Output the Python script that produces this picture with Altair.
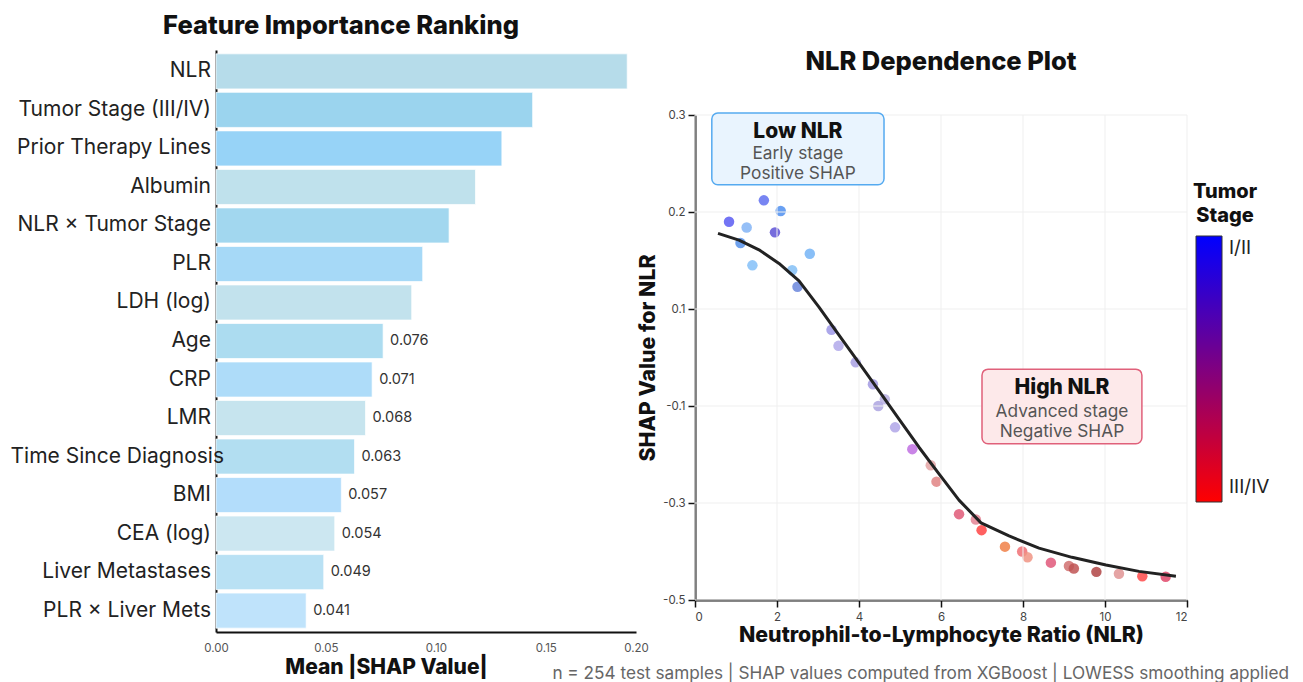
import altair as alt
import pandas as pd

# ---------------- data ----------------
features = ["NLR", "Tumor Stage (III/IV)", "Prior Therapy Lines", "Albumin",
            "NLR × Tumor Stage", "PLR", "LDH (log)", "Age", "CRP", "LMR",
            "Time Since Diagnosis", "BMI", "CEA (log)", "Liver Metastases",
            "PLR × Liver Mets"]
importance = [0.187, 0.144, 0.130, 0.118, 0.106, 0.094, 0.089, 0.076, 0.071,
              0.068, 0.063, 0.057, 0.054, 0.049, 0.041]
bar_colors = ["#b6dcea", "#9bd4ee", "#97d3f7", "#bfe1ec", "#a2d7ef", "#a6d9f7",
              "#c2e2ed", "#acdcf0", "#aedcf9", "#c6e4ee", "#b2def1", "#b3ddfb",
              "#cce7f1", "#b9e1f4", "#bfe3fb"]
imp_ticks = [0, 0.05, 0.10, 0.15, 0.191]

nlr = [0.83, 1.68, 2.09, 1.26, 1.95, 1.11, 2.80, 1.40, 2.37, 2.50,
       3.33, 3.50, 3.92, 4.34, 4.63, 4.47, 4.88, 5.30, 5.75, 5.89, 6.44,
       6.85, 6.99, 7.56, 7.98, 8.11, 8.68, 9.12, 9.24, 9.79, 10.34, 10.91, 11.48]
shap = [0.190, 0.212, 0.201, 0.184, 0.179, 0.168, 0.157, 0.145, 0.140, 0.123,
        0.057, 0.024, -0.010, -0.055, -0.086, -0.100, -0.144, -0.189, -0.222, -0.256, -0.323,
        -0.334, -0.356, -0.390, -0.400, -0.412, -0.423, -0.430, -0.435, -0.442, -0.446, -0.451, -0.452]
point_colors = ["#5b5cf2", "#6070f0", "#4f8ff0", "#82b4f6", "#5e52d6", "#5590ea", "#74b4f6",
                "#84c0f8", "#84c0f6", "#6a86dc",
                "#9e98e6", "#b0a8ea", "#a8a0e2", "#a29ae2", "#b8b0e2", "#ada4e0", "#b0a6e8",
                "#c070e2", "#e4a4a4", "#e08484", "#e05a78",
                "#e48494", "#ff4444", "#f08048", "#f07074", "#f09484", "#e0587a", "#d07070",
                "#c05454", "#b04444", "#e09494", "#ff4a4a", "#e0486a"]

lowess_x = [0.561, 1.073, 1.561, 2.049, 2.537, 3.024, 3.512, 4.0, 4.488, 4.976, 5.463,
            5.951, 6.439, 6.976, 7.659, 8.39, 9.195, 10.024, 10.829, 11.73]
lowess_y = [0.178, 0.171, 0.161, 0.147, 0.129, 0.102, 0.046, -0.011, -0.069, -0.127, -0.185,
            -0.240, -0.294, -0.341, -0.368, -0.393, -0.412, -0.428, -0.441, -0.451]

x_ticks = [0, 2, 4, 6, 8, 10, 12]
y_ticks = [-0.5, -0.3, -0.1, 0.1, 0.2, 0.3]

stage_values = [0.0, 1.0]

left_title = "Feature Importance Ranking"
right_title = "NLR Dependence Plot"
legend_title = "Tumor\nStage"
footer = "n = 254 test samples | SHAP values computed from XGBoost | LOWESS smoothing applied"

FONT = "Inter"

# ---------------- left: feature importance ----------------
bars_df = pd.DataFrame({"feature": features, "importance": importance, "color": bar_colors})

y_left = alt.Y(
    "feature:N", sort=features,
    scale=alt.Scale(paddingInner=0.09, paddingOuter=0.1),
    axis=alt.Axis(title=None, ticks=False, labels=False, domain=True,
                  domainColor="#111", domainWidth=2),
)
x_left = alt.X(
    "importance:Q",
    scale=alt.Scale(domain=[0, 0.191], nice=False, zero=True),
    axis=alt.Axis(values=imp_ticks,
                  labelExpr="datum.value > 0.18 ? '0.20' : format(datum.value, '.2f')",
                  ticks=False, grid=False, domainColor="#111", domainWidth=2,
                  labelFontSize=11.5, labelColor="#555", labelPadding=10, labelFlush=False,
                  title="Mean |SHAP Value|", titleFontSize=21, titleFontWeight=800,
                  titleColor="#111", titleX=170, titlePadding=3),
)

bars = alt.Chart(bars_df).mark_bar(stroke="white", strokeWidth=1, strokeOpacity=0.7).encode(
    x=x_left, y=y_left, color=alt.Color("color:N", scale=None)
)
bar_labels = alt.Chart(bars_df).transform_filter("datum.importance < 0.08").mark_text(
    align="left", dx=7, fontSize=14.5, color="#333"
).encode(x="importance:Q", y=alt.Y("feature:N", sort=features), text=alt.Text("importance:Q", format=".3f"))

# category labels drawn as text (the long one overflows the axis line as in the original)
cat_labels = alt.Chart(bars_df).transform_calculate(
    px="datum.feature == 'Time Since Diagnosis' ? 8 : -5"
).mark_text(align="right", fontSize=21, color="#222").encode(
    x=alt.X("px:Q", scale=None), y=alt.Y("feature:N", sort=features), text="feature:N"
)

left_title_txt = alt.Chart(pd.DataFrame({"t": [left_title]})).mark_text(
    fontSize=25.5, fontWeight=800, color="#111"
).encode(text="t:N", x=alt.value(125), y=alt.value(-24))

left = alt.layer(bars, bar_labels, cat_labels, left_title_txt).properties(width=420, height=582)

# ---------------- right: dependence plot ----------------
xs = alt.Scale(domain=[0, 12], nice=False, zero=False)
ys = alt.Scale(domain=[-0.5, 0.1, 0.3], range=[550, 259, 65], nice=False, zero=False)

ax_common = dict(domainColor="#111", domainWidth=2, tickColor="#111", tickWidth=1.5,
                 tickSize=7, labelColor="#444", labelFontSize=11.5, grid=False,
                 titleColor="#111", titleFontSize=21.3, titleFontWeight=800)

x_right = alt.X("nlr:Q", scale=xs,
                axis=alt.Axis(values=x_ticks, title="Neutrophil-to-Lymphocyte Ratio (NLR)",
                              labelPadding=4, titlePadding=2, **ax_common))
y_right = alt.Y("shap:Q", scale=ys,
                axis=alt.Axis(values=y_ticks, labelExpr="toString(datum.value)",
                              title="SHAP Value for NLR", labelPadding=3, titlePadding=4,
                              **ax_common))

pts_df = pd.DataFrame({"nlr": nlr, "shap": shap, "c": point_colors})
line_df = pd.DataFrame({"nlr": lowess_x, "shap": lowess_y})

vgrid = alt.Chart(pd.DataFrame({"nlr": x_ticks, "top": [0.3] * len(x_ticks),
                                "bot": [-0.5] * len(x_ticks)})).mark_rule(
    color="#efefef", strokeWidth=1).encode(x="nlr:Q", y="top:Q", y2="bot:Q")
hgrid = alt.Chart(pd.DataFrame({"shap": y_ticks, "lft": [0] * len(y_ticks),
                                "rgt": [12] * len(y_ticks)})).mark_rule(
    color="#efefef", strokeWidth=1).encode(y="shap:Q", x="lft:Q", x2="rgt:Q")

points = alt.Chart(pts_df).mark_circle(size=110, opacity=0.85).encode(
    x=x_right, y=y_right, color=alt.Color("c:N", scale=None)
)
curve = alt.Chart(line_df).mark_line(color="#222", strokeWidth=3, strokeJoin="round").encode(
    x="nlr:Q", y="shap:Q")

low_box = alt.Chart(pd.DataFrame({"x0": [0.41], "x1": [4.61], "y0": [0.302], "y1": [0.228]})).mark_rect(
    cornerRadius=6, fill="#e9f4fe", stroke="#55aaf0", strokeWidth=1.5
).encode(x="x0:Q", x2="x1:Q", y="y0:Q", y2="y1:Q")
high_box = alt.Chart(pd.DataFrame({"x0": [7.0], "x1": [10.9], "y0": [-0.024], "y1": [-0.178]})).mark_rect(
    cornerRadius=6, fill="#fde9ea", stroke="#e0607a", strokeWidth=1.5
).encode(x="x0:Q", x2="x1:Q", y="y0:Q", y2="y1:Q")

ann_head = alt.Chart(pd.DataFrame({"x": [2.51, 8.95], "y": [0.2825, -0.063],
                                   "t": ["Low NLR", "High NLR"]})).mark_text(
    fontSize=21, fontWeight=800, color="#111"
).encode(x="x:Q", y="y:Q", text="t:N")
ann_sub = alt.Chart(pd.DataFrame({"x": [2.51, 2.51, 8.95, 8.95],
                                  "y": [0.26, 0.239, -0.112, -0.154],
                                  "t": ["Early stage", "Positive SHAP", "Advanced stage", "Negative SHAP"]})).mark_text(
    fontSize=17.3, color="#555"
).encode(x="x:Q", y="y:Q", text="t:N")

legend_layer = alt.Chart(pd.DataFrame({"stage": stage_values})).mark_point(opacity=0).encode(
    fill=alt.Fill("stage:Q",
                  scale=alt.Scale(domain=[0, 1], range=["#ff0000", "#0000ff"], interpolate="rgb"),
                  legend=alt.Legend(title=None, orient="none", legendX=980, legendY=186,
                                    direction="vertical", gradientLength=266, gradientThickness=26,
                                    values=[0.055, 0.955],
                                    labelExpr="datum.value > 0.5 ? 'I/II' : 'III/IV'",
                                    labelFontSize=19, labelColor="#222", labelOffset=7,
                                    gradientStrokeColor="#333", gradientStrokeWidth=1))
)
legend_title_txt = alt.Chart(pd.DataFrame({"t": [legend_title]})).mark_text(
    fontSize=20, fontWeight=800, color="#111", lineBreak="\n", lineHeight=24, baseline="middle"
).encode(text="t:N", x=alt.value(530), y=alt.value(142))

right_title_txt = alt.Chart(pd.DataFrame({"t": [right_title]})).mark_text(
    fontSize=25.5, fontWeight=800, color="#111"
).encode(text="t:N", x=alt.value(246), y=alt.value(12))
footer_txt = alt.Chart(pd.DataFrame({"t": [footer]})).mark_text(
    fontSize=17.2, color="#666", align="right"
).encode(text="t:N", x=alt.value(594), y=alt.value(624))

right = alt.layer(points, vgrid, hgrid, curve, low_box, high_box, ann_head, ann_sub,
                  legend_layer, legend_title_txt, right_title_txt, footer_txt).properties(
    width=492, height=550)

chart = alt.hconcat(left, right, spacing=59, bounds="flush").properties(
    padding={"left": 2, "top": 6, "right": 0, "bottom": 0}
).configure(font=FONT, background="white").configure_view(stroke=None)

chart.save("out.html", embed_options={"renderer": "svg", "actions": False})
